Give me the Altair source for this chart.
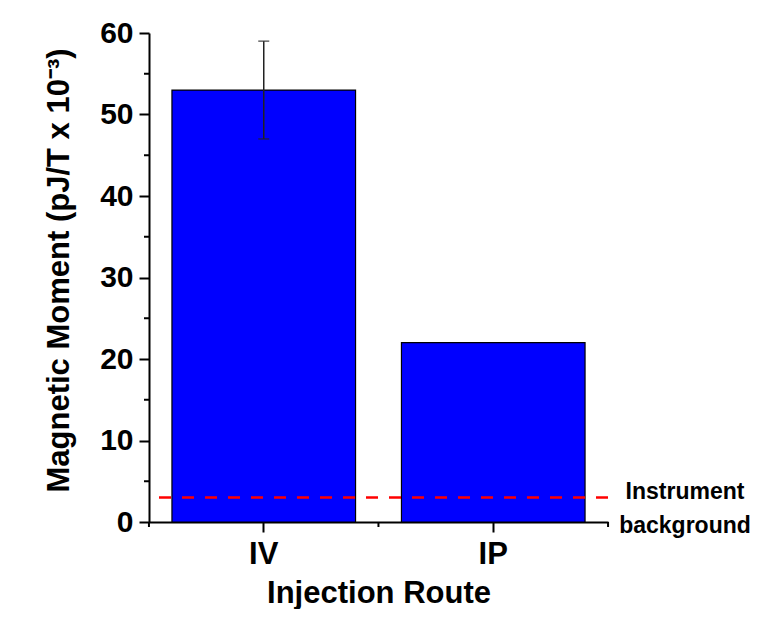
import altair as alt
import pandas as pd

# ---- data ----
routes = ["IV", "IP"]
moments = [53, 22]
err_route = ["IV"]
err_low = [47]
err_high = [59]
background_level = [3]
y_ticks = [0, 10, 20, 30, 40, 50, 60]
y_minor = [5, 15, 25, 35, 45, 55]
annotation = ["Instrument", "background"]

W, H = 459, 489
FONT = "Liberation Sans"

bars_df = pd.DataFrame({"route": routes, "moment": moments})
err_df = pd.DataFrame({"route": err_route, "lo": err_low, "hi": err_high})
level_df = pd.DataFrame({"level": background_level})
minor_y_df = pd.DataFrame({"v": y_minor})
minor_x_left_df = pd.DataFrame({"route": routes})
minor_x_right_df = pd.DataFrame({"route": routes[-1:]})

x_scale = alt.Scale(domain=routes, paddingInner=0.2, paddingOuter=0.1)
y_scale = alt.Scale(domain=[0, 60], nice=False)

x_axis = alt.Axis(
    title="Injection Route", titleFont=FONT, titleFontSize=31, titleFontWeight="bold",
    titleColor="black", titleBaseline="alphabetic", titleY=80,
    labelFont=FONT, labelFontSize=31, labelFontWeight="bold", labelColor="black",
    labelAngle=0, labelBaseline="alphabetic", labelPadding=31,
    tickSize=10, tickWidth=2, tickColor="black", domainColor="black", domainWidth=2,
    grid=False,
)
y_axis = alt.Axis(
    title="Magnetic Moment (pJ/T x 10⁻³)", values=y_ticks,
    titleFont=FONT, titleFontSize=31, titleFontWeight="bold", titleColor="black",
    titleBaseline="alphabetic", titleX=-81, titleY=237,
    labelFont=FONT, labelFontSize=30, labelFontWeight="bold", labelColor="black",
    labelPadding=6, labelFlush=False, labelOverlap=False,
    tickSize=10, tickWidth=2, tickColor="black", domainColor="black", domainWidth=2,
    grid=False,
)


def X(field, **kw):
    return alt.X(field, scale=x_scale, sort=routes, axis=x_axis, **kw)


def Y(field):
    return alt.Y(field, scale=y_scale, axis=y_axis)


bars = alt.Chart(bars_df).mark_bar(color="#0000ff", stroke="black", strokeWidth=1.2).encode(
    x=X("route:N"),
    y=Y("moment:Q"),
)

err = alt.Chart(err_df).mark_errorbar(ticks=True, size=11, thickness=1.5, color="#222222").encode(
    x=X("route:N"),
    y=Y("lo:Q"),
    y2="hi:Q",
)

bg_line = alt.Chart(level_df).mark_rule(color="#ff0000", strokeWidth=2.5, strokeDash=[12, 11]).encode(
    y=Y("level:Q"),
)

bg_text = alt.Chart(level_df).mark_text(
    font=FONT, fontSize=23, fontWeight="bold", color="black",
    align="center", baseline="alphabetic", lineHeight=34, dy=1,
).encode(
    x=alt.value(W + 77),
    y=Y("level:Q"),
    text=alt.value(annotation),
)

minor_y = alt.Chart(minor_y_df).mark_rule(color="black", strokeWidth=2).encode(
    y=Y("v:Q"),
    x=alt.value(0),
    x2=alt.value(-5),
)

minor_x_left = alt.Chart(minor_x_left_df).mark_rule(color="black", strokeWidth=2, xOffset=-23).encode(
    x=X("route:N", bandPosition=0),
    y=alt.value(H),
    y2=alt.value(H + 5),
)

minor_x_right = alt.Chart(minor_x_right_df).mark_rule(color="black", strokeWidth=2, xOffset=23).encode(
    x=X("route:N", bandPosition=1),
    y=alt.value(H),
    y2=alt.value(H + 5),
)

chart = alt.layer(bars, bg_line, err, bg_text, minor_y, minor_x_left, minor_x_right).properties(
    width=W,
    height=H,
    autosize=alt.AutoSizeParams(type="none"),
    padding={"left": 141, "top": 25, "right": 143, "bottom": 87},
    background="white",
).configure_view(stroke=None)

chart.save("out.html", embed_options={"renderer": "svg", "actions": False})
